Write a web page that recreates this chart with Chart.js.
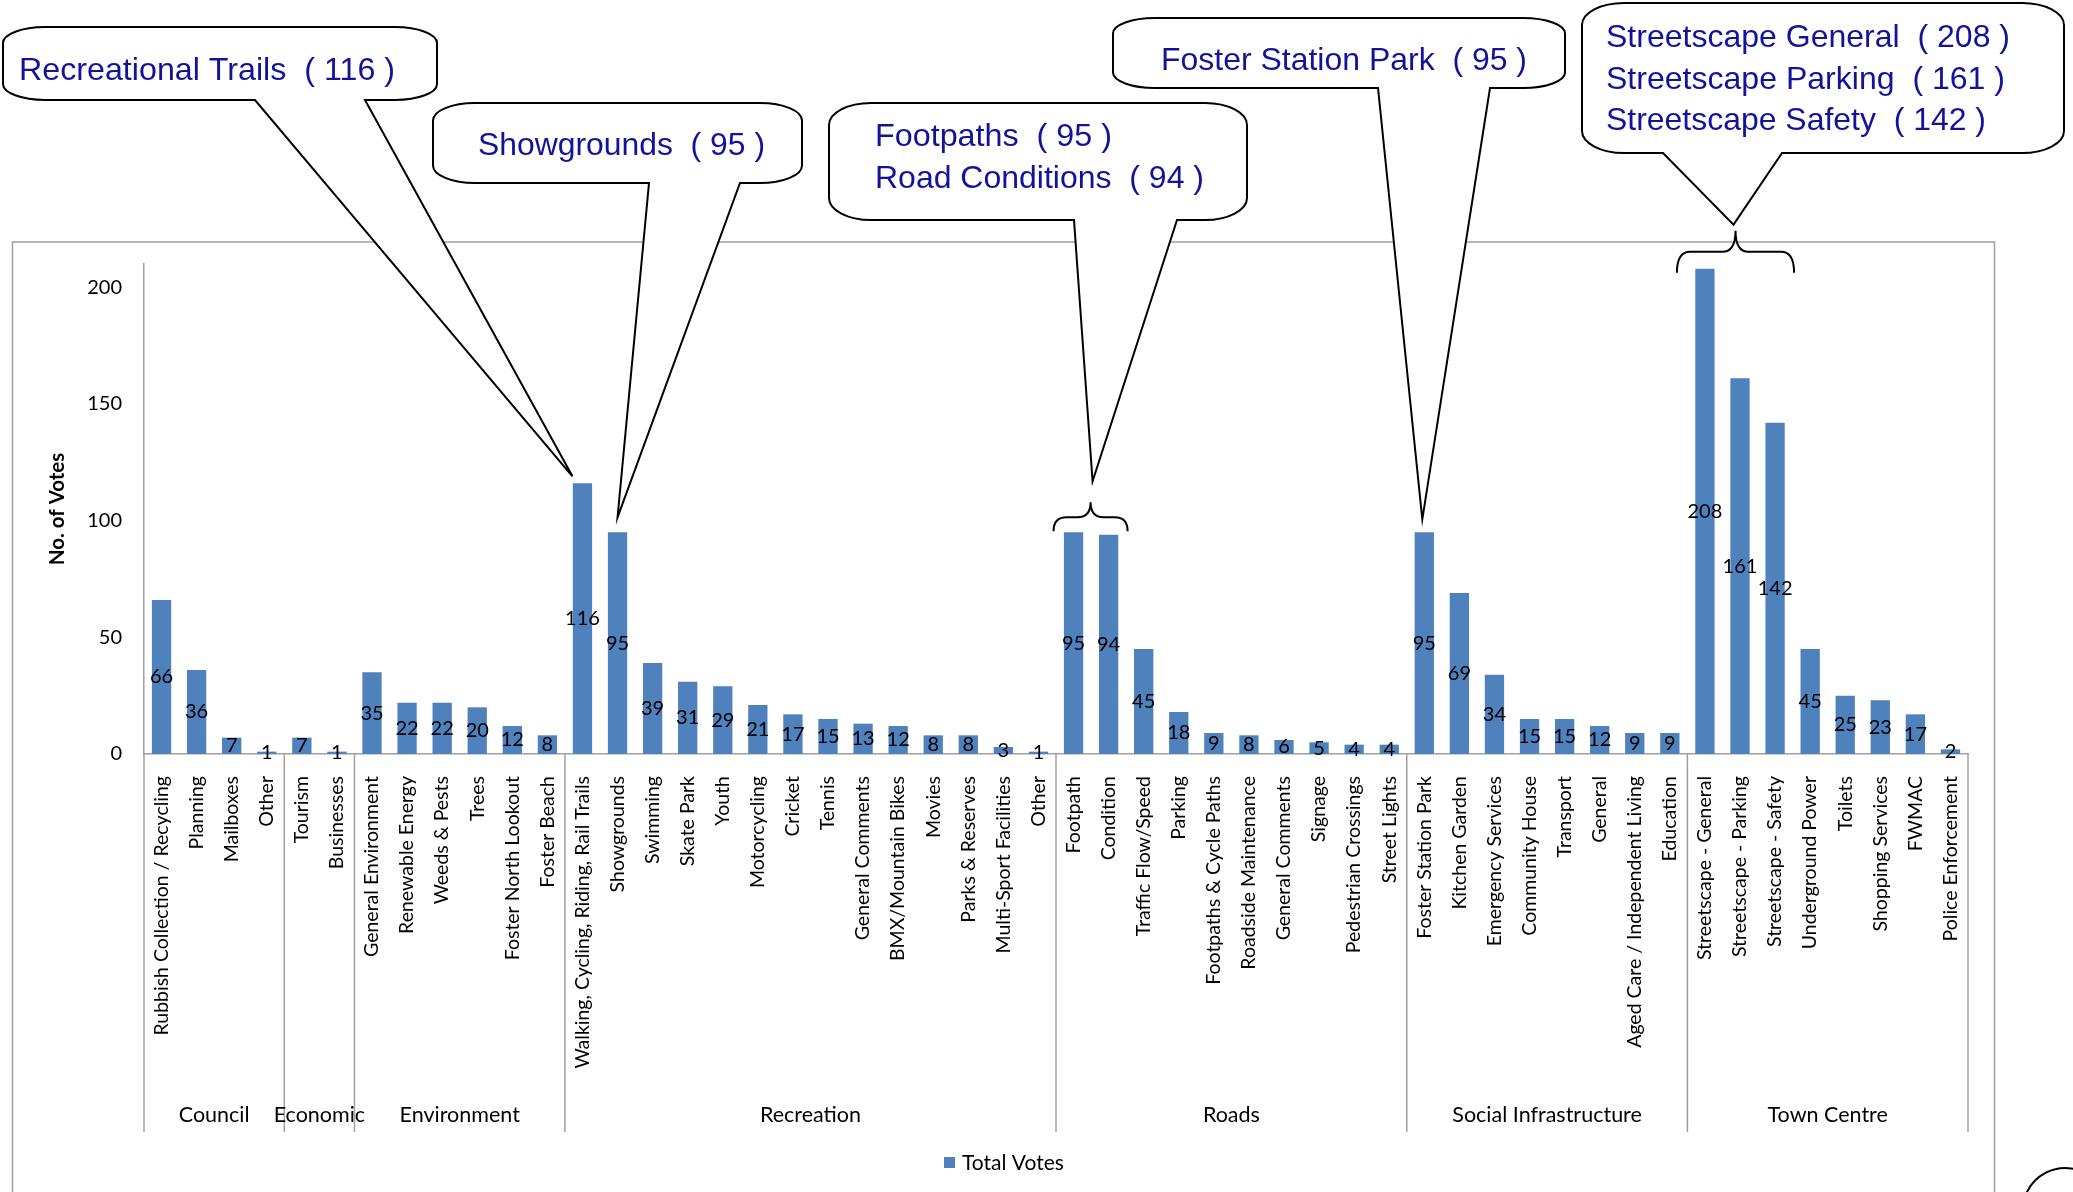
<!DOCTYPE html>
<html>
<head>
<meta charset="utf-8">
<script src="https://cdn.jsdelivr.net/npm/chart.js@4.4.0/dist/chart.umd.min.js"></script>
<style>
  html, body { margin: 0; padding: 0; background: #fff; }
</style>
</head>
<body>
<canvas id="votesChart" width="2073" height="1192"></canvas>
<script>
// --- data ---
const categories = [
  'Rubbish Collection / Recycling', 'Planning', 'Mailboxes', 'Other',
  'Tourism', 'Businesses',
  'General Environment', 'Renewable Energy', 'Weeds & Pests', 'Trees', 'Foster North Lookout', 'Foster Beach',
  'Walking, Cycling, Riding, Rail Trails', 'Showgrounds', 'Swimming', 'Skate Park', 'Youth', 'Motorcycling',
  'Cricket', 'Tennis', 'General Comments', 'BMX/Mountain Bikes', 'Movies', 'Parks & Reserves',
  'Multi-Sport Facilities', 'Other',
  'Footpath', 'Condition', 'Traffic Flow/Speed', 'Parking', 'Footpaths & Cycle Paths', 'Roadside Maintenance',
  'General Comments', 'Signage', 'Pedestrian Crossings', 'Street Lights',
  'Foster Station Park', 'Kitchen Garden', 'Emergency Services', 'Community House', 'Transport', 'General',
  'Aged Care / Independent Living', 'Education',
  'Streetscape - General', 'Streetscape - Parking', 'Streetscape - Safety', 'Underground Power', 'Toilets',
  'Shopping Services', 'FWMAC', 'Police Enforcement'
];
const votes = [
  66, 36, 7, 1,
  7, 1,
  35, 22, 22, 20, 12, 8,
  116, 95, 39, 31, 29, 21, 17, 15, 13, 12, 8, 8, 3, 1,
  95, 94, 45, 18, 9, 8, 6, 5, 4, 4,
  95, 69, 34, 15, 15, 12, 9, 9,
  208, 161, 142, 45, 25, 23, 17, 2
];
const groupNames = ['Council', 'Economic', 'Environment', 'Recreation', 'Roads', 'Social Infrastructure', 'Town Centre'];
const groupSizes = [4, 2, 6, 14, 10, 8, 8];
const yTicks = [0, 50, 100, 150, 200];

// callout names and the bars they point at
const calloutNames = [
  ['Recreational Trails'],
  ['Showgrounds'],
  ['Footpaths', 'Road Conditions'],
  ['Foster Station Park'],
  ['Streetscape General', 'Streetscape Parking', 'Streetscape Safety']
];
const calloutBars = [[12], [13], [26, 27], [36], [44, 45, 46]];

// --- layout of the callouts (page pixels) ---
const calloutLayout = [
  { box: [3, 27, 437, 100], base: [255, 365], tip: [-10, -7], tx: 19, ty: [80], tw: [376] },
  { box: [433, 103, 802, 183], base: [649, 740], tip: [0, -15], tx: 478, ty: [155], tw: [287] },
  { box: [829, 103, 1247, 220], base: [1074, 1177], tip: [2, -21], tx: 875, ty: [146, 188], tw: [237, 329],
    brace: { left: -20, right: 19, tipDy: -1, hDy: -15, peakDy: -30 } },
  { box: [1113, 18, 1565, 88], base: [1378, 1490], tip: [-2, -13], tx: 1161, ty: [70], tw: [366] },
  { box: [1582, 3, 2064, 153], base: [1663, 1782], tip: [-2, -6], tx: 1606, ty: [47, 89, 130], tw: [404, 399, 380],
    brace: { left: -28, right: 19, tipDy: 4, hDy: -17, peakDy: -38 } }
];

const barBlue = '#4f81bd';
const axisGray = '#a0a0a0';
const calloutBlue = '#12129a';

function calloutPath(ctx, x0, y0, x1, y1, b0, b1, tx, ty) {
  const rx = 42, ry = Math.min(22, (y1 - y0) * 0.22);
  ctx.beginPath();
  ctx.moveTo(x0 + rx, y0);
  ctx.lineTo(x1 - rx, y0);
  ctx.ellipse(x1 - rx, y0 + ry, rx, ry, 0, -Math.PI / 2, 0);
  ctx.lineTo(x1, y1 - ry);
  ctx.ellipse(x1 - rx, y1 - ry, rx, ry, 0, 0, Math.PI / 2);
  ctx.lineTo(b1, y1);
  ctx.lineTo(tx, ty);
  ctx.lineTo(b0, y1);
  ctx.lineTo(x0 + rx, y1);
  ctx.ellipse(x0 + rx, y1 - ry, rx, ry, 0, Math.PI / 2, Math.PI);
  ctx.lineTo(x0, y0 + ry);
  ctx.ellipse(x0 + rx, y0 + ry, rx, ry, 0, Math.PI, Math.PI * 1.5);
  ctx.closePath();
}

function drawBrace(ctx, xl, xr, yTip, yH, yPeak) {
  const r = 13, xc = (xl + xr) / 2;
  ctx.beginPath();
  ctx.moveTo(xl, yTip);
  ctx.quadraticCurveTo(xl, yH, xl + r, yH);
  ctx.lineTo(xc - r, yH);
  ctx.quadraticCurveTo(xc, yH, xc, yPeak);
  ctx.quadraticCurveTo(xc, yH, xc + r, yH);
  ctx.lineTo(xr - r, yH);
  ctx.quadraticCurveTo(xr, yH, xr, yTip);
  ctx.stroke();
}

const decorations = {
  id: 'decorations',
  beforeDraw(chart) {
    const ctx = chart.ctx;
    ctx.save();
    ctx.fillStyle = '#fff';
    ctx.fillRect(0, 0, chart.width, chart.height);
    ctx.strokeStyle = axisGray;
    ctx.lineWidth = 1.5;
    ctx.strokeRect(12.5, 242, 1982, 1100);
    ctx.restore();
  },
  afterDatasetsDraw(chart) {
    const ctx = chart.ctx;
    const meta = chart.getDatasetMeta(0);
    ctx.save();
    ctx.font = '20px Lato';
    ctx.fillStyle = '#000';
    ctx.textAlign = 'center';
    ctx.textBaseline = 'middle';
    meta.data.forEach((bar, i) => {
      ctx.fillText(String(votes[i]), bar.x, (bar.y + bar.base) / 2);
    });
    ctx.restore();
  },
  afterDraw(chart) {
    const ctx = chart.ctx;
    const xs = chart.scales.x, ys = chart.scales.y;
    const area = chart.chartArea;
    const bottom = area.bottom + 378;
    const half = (xs.getPixelForValue(1) - xs.getPixelForValue(0)) / 2;
    ctx.save();

    // group separators and group labels
    ctx.strokeStyle = axisGray;
    ctx.lineWidth = 1.5;
    ctx.font = '21.5px Lato';
    ctx.fillStyle = '#000';
    ctx.textAlign = 'center';
    ctx.textBaseline = 'middle';
    let start = 0;
    groupNames.forEach((name, g) => {
      const x0 = xs.getPixelForValue(start) - half;
      const x1 = xs.getPixelForValue(start + groupSizes[g] - 1) + half;
      ctx.beginPath();
      ctx.moveTo(x0, area.bottom);
      ctx.lineTo(x0, bottom);
      ctx.stroke();
      if (g === groupNames.length - 1) {
        ctx.beginPath();
        ctx.moveTo(x1, area.bottom);
        ctx.lineTo(x1, bottom);
        ctx.stroke();
      }
      ctx.fillText(name, (x0 + x1) / 2, bottom - 17);
      start += groupSizes[g];
    });

    // legend
    ctx.fillStyle = barBlue;
    ctx.fillRect(944, 1157, 11, 11);
    ctx.fillStyle = '#000';
    ctx.textAlign = 'left';
    ctx.font = '21px Lato';
    ctx.fillText(chart.data.datasets[0].label, 962, 1163);

    // callouts
    ctx.lineWidth = 2;
    ctx.strokeStyle = '#000';
    calloutLayout.forEach((c, k) => {
      const idx = calloutBars[k];
      const tops = idx.map(i => ys.getPixelForValue(votes[i]));
      const top = Math.min(...tops);
      let tipX, tipY;
      if (c.brace) {
        const xl = xs.getPixelForValue(idx[0]) + c.brace.left;
        const xr = xs.getPixelForValue(idx[idx.length - 1]) + c.brace.right;
        const peak = top + c.brace.peakDy;
        drawBrace(ctx, xl, xr, top + c.brace.tipDy, top + c.brace.hDy, peak);
        tipX = (xl + xr) / 2 + c.tip[0];
        tipY = peak + c.tip[1];
      } else {
        tipX = xs.getPixelForValue(idx[0]) + c.tip[0];
        tipY = top + c.tip[1];
      }
      const [x0, y0, x1, y1] = c.box;
      calloutPath(ctx, x0, y0, x1, y1, c.base[0], c.base[1], tipX, tipY);
      ctx.fillStyle = '#fff';
      ctx.fill();
      ctx.stroke();

      ctx.fillStyle = calloutBlue;
      ctx.font = '32px "Liberation Sans", Arial, sans-serif';
      ctx.textAlign = 'left';
      ctx.textBaseline = 'alphabetic';
      calloutNames[k].forEach((name, j) => {
        const text = name + '  ( ' + votes[idx[j]] + ' )';
        const w = ctx.measureText(text).width;
        ctx.save();
        ctx.translate(c.tx, c.ty[j]);
        ctx.scale(c.tw[j] / w, 1);
        ctx.fillText(text, 0, 0);
        ctx.restore();
      });
    });

    // edge of another shape peeking in at the bottom right
    ctx.beginPath();
    ctx.arc(2065, 1210, 42, Math.PI * 1.1, Math.PI * 1.6);
    ctx.stroke();

    ctx.restore();
  }
};

new Chart(document.getElementById('votesChart'), {
  type: 'bar',
  data: {
    labels: categories,
    datasets: [{
      label: 'Total Votes',
      data: votes,
      backgroundColor: barBlue,
      borderWidth: 0,
      categoryPercentage: 1,
      barPercentage: 0.55
    }]
  },
  options: {
    responsive: false,
    animation: false,
    devicePixelRatio: 1,
    layout: { padding: { top: 264, right: 105, left: 0, bottom: 0 } },
    plugins: {
      legend: { display: false },
      tooltip: { enabled: false }
    },
    scales: {
      x: {
        grid: { display: false, drawTicks: false },
        border: { color: axisGray, width: 1.5 },
        ticks: {
          autoSkip: false,
          maxRotation: 90,
          minRotation: 90,
          padding: 22,
          color: '#000',
          font: { family: 'Lato', size: 19.5 }
        },
        afterFit(scale) { scale.height = 438; }
      },
      y: {
        min: 0,
        max: 210,
        grid: { display: false, drawTicks: false },
        border: { color: axisGray, width: 1.5 },
        ticks: {
          stepSize: 50,
          padding: 22,
          color: '#000',
          font: { family: 'Lato', size: 20 }
        },
        afterBuildTicks(scale) {
          scale.ticks = yTicks.map(v => ({ value: v }));
        },
        title: {
          display: true,
          text: 'No. of Votes',
          color: '#000',
          font: { family: 'Lato', size: 20.5, weight: 'bold' },
          padding: { top: 45, bottom: 0 }
        },
        afterFit(scale) { scale.width = 144; }
      }
    }
  },
  plugins: [decorations]
});
</script>
</body>
</html>
